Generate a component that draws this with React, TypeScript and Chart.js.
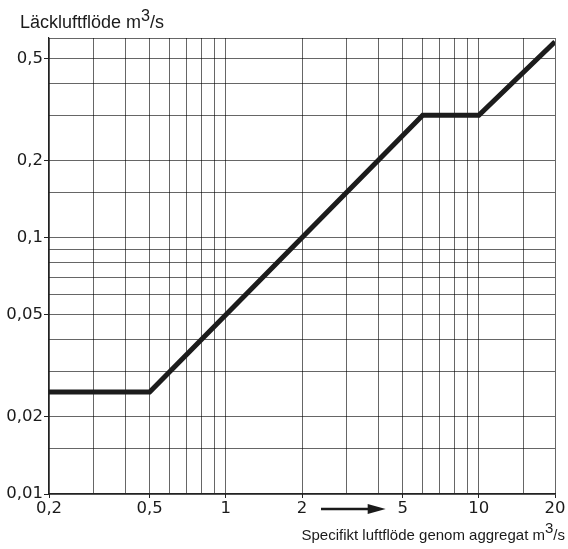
import React, { useEffect, useRef } from 'react';
import Chart from 'chart.js/auto';

// Data (log-log line)
const flowX = [0.2, 0.5, 6, 10, 20];
const leakY = [0.025, 0.025, 0.3, 0.3, 0.58];

// Grid lines
const xGrid = [0.2, 0.3, 0.4, 0.5, 0.6, 0.7, 0.8, 0.9, 1, 2, 3, 4, 5, 6, 7, 8, 9, 10, 15, 20];
const yGrid = [0.01, 0.015, 0.02, 0.03, 0.04, 0.05, 0.06, 0.07, 0.08, 0.09, 0.1, 0.15, 0.2, 0.3, 0.4, 0.5, 0.6];

// Labelled ticks
const xTickValues = [0.2, 0.5, 1, 2, 5, 10, 20];
const xTickLabels = ['0,2', '0,5', '1', '2', '5', '10', '20'];
const yTickValues = [0.01, 0.02, 0.05, 0.1, 0.2, 0.5];
const yTickLabels = ['0,01', '0,02', '0,05', '0,1', '0,2', '0,5'];

// Arrow annotation on x axis (between these values)
const arrowFrom = 2;
const arrowTo = 5;

const near = (a: number, b: number) => Math.abs(a - b) < 1e-9 * Math.max(1, Math.abs(b));
const labelOf = (v: number, vals: number[], labs: string[]) => {
  const i = vals.findIndex((t) => near(v, t));
  return i >= 0 ? labs[i] : '';
};

const arrowPlugin = {
  id: 'axisArrow',
  afterDraw(chart: any) {
    const xs = chart.scales.x;
    const ctx = chart.ctx;
    const x0 = xs.getPixelForValue(arrowFrom) + 19;
    const x1 = xs.getPixelForValue(arrowTo) - 17;
    const y = chart.chartArea.bottom + 15;
    ctx.save();
    ctx.strokeStyle = '#1a1a1a';
    ctx.fillStyle = '#1a1a1a';
    ctx.lineWidth = 2.5;
    ctx.beginPath();
    ctx.moveTo(x0, y);
    ctx.lineTo(x1 - 12, y);
    ctx.stroke();
    ctx.beginPath();
    ctx.moveTo(x1, y);
    ctx.lineTo(x1 - 18, y - 5);
    ctx.lineTo(x1 - 18, y + 5);
    ctx.closePath();
    ctx.fill();
    ctx.restore();
  },
};

const FONT = "'Liberation Sans', Arial, sans-serif";
const TICK_FONT = "'DejaVu Sans', sans-serif";

export default function App() {
  const ref = useRef<HTMLCanvasElement | null>(null);

  useEffect(() => {
    if (!ref.current) return;
    const gridColor = 'rgba(0,0,0,0.6)';
    const chart = new Chart(ref.current, {
      type: 'line',
      data: {
        datasets: [
          {
            data: flowX.map((x, i) => ({ x, y: leakY[i] })),
            borderColor: '#1c1c1c',
            borderWidth: 5,
            pointRadius: 0,
            tension: 0,
            borderJoinStyle: 'miter',
            fill: false,
          },
        ],
      },
      options: {
        animation: false,
        responsive: false,
        devicePixelRatio: 1,
        layout: { padding: { left: 0, right: 13, top: 38, bottom: 0 } },
        plugins: { legend: { display: false }, tooltip: { enabled: false } },
        scales: {
          x: {
            type: 'logarithmic',
            min: 0.2,
            max: 20,
            afterBuildTicks: (s: any) => {
              s.ticks = xGrid.map((v) => ({ value: v }));
            },
            afterFit: (s: any) => {
              s.height = 55;
            },
            ticks: {
              autoSkip: false,
              maxRotation: 0,
              minRotation: 0,
              padding: 1,
              color: '#1a1a1a',
              font: { family: TICK_FONT, size: 16.5 },
              callback: (v: any) => labelOf(Number(v), xTickValues, xTickLabels),
            },
            grid: {
              color: gridColor,
              lineWidth: 1,
              tickLength: 4,
              tickColor: (c: any) =>
                c.tick && labelOf(c.tick.value, xTickValues, xTickLabels) ? '#222' : 'rgba(0,0,0,0)',
            },
            border: { color: '#222', width: 1.2 },
          },
          y: {
            type: 'logarithmic',
            min: 0.01,
            max: 0.6,
            afterBuildTicks: (s: any) => {
              s.ticks = yGrid.map((v) => ({ value: v }));
            },
            afterFit: (s: any) => {
              s.width = 49;
            },
            ticks: {
              autoSkip: false,
              padding: 1,
              color: '#1a1a1a',
              font: { family: TICK_FONT, size: 16.5 },
              callback: (v: any) => labelOf(Number(v), yTickValues, yTickLabels),
            },
            grid: {
              color: gridColor,
              lineWidth: 1,
              tickLength: 5,
              tickColor: (c: any) =>
                c.tick && labelOf(c.tick.value, yTickValues, yTickLabels) ? '#222' : 'rgba(0,0,0,0)',
            },
            border: { color: '#222', width: 1.2 },
          },
        },
      },
      plugins: [arrowPlugin],
    } as any);
    return () => chart.destroy();
  }, []);

  return (
    <div style={{ position: 'fixed', left: 0, top: 0, width: 568, height: 549, background: '#fff' }}>
      <canvas ref={ref} width={568} height={549} style={{ position: 'absolute', left: 0, top: 0 }} />
      <div
        style={{
          position: 'absolute',
          left: 20,
          top: 13,
          fontFamily: FONT,
          fontSize: 18,
          lineHeight: 1,
          color: '#1a1a1a',
          whiteSpace: 'nowrap',
        }}
      >
        Läckluftflöde m<span style={{ position: 'relative', top: '-0.45em', fontSize: '0.9em' }}>3</span>/s
      </div>
      <div
        style={{
          position: 'absolute',
          right: 3,
          top: 527,
          fontFamily: FONT,
          fontSize: 15,
          lineHeight: 1,
          color: '#1a1a1a',
          whiteSpace: 'nowrap',
        }}
      >
        Specifikt luftflöde genom aggregat m
        <span style={{ position: 'relative', top: '-0.45em', fontSize: '1em' }}>3</span>/s
      </div>
    </div>
  );
}
